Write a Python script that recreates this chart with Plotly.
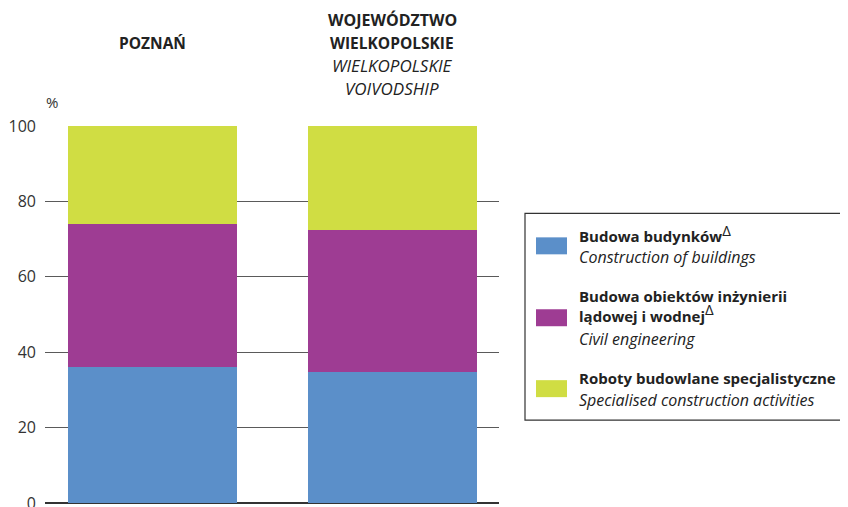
import plotly.graph_objects as go

categories = ["POZNAŃ", "WOJEWÓDZTWO WIELKOPOLSKIE"]
buildings = [36.0, 34.7]
civil = [38.1, 37.8]
specialised = [25.9, 27.5]
series_pl = ["Budowa budynków", "Budowa obiektów inżynierii<br>lądowej i wodnej", "Roboty budowlane specjalistyczne"]
series_en = ["Construction of buildings", "Civil engineering", "Specialised construction activities"]
colors = ["#5b8fc9", "#9e3c93", "#d0dd43"]
yticks = [0, 20, 40, 60, 80, 100]

FONT = "Open Sans"
OFF = 8  # page body margin
W, H = 848 - OFF, 507 - OFF
# plot area in screenshot pixel coords
L, R, T, B = 45, 499, 125.5, 503

def px(x):
    return (x - L) / (R - L)

def py(y):
    return (B - y) / (B - T)

fig = go.Figure()
xs = [0, 1]
for vals, col, name in zip([buildings, civil, specialised], colors, series_en):
    fig.add_trace(go.Bar(x=xs, y=vals, marker=dict(color=col, line=dict(width=0)),
                         width=0.704, name=name, showlegend=False, hoverinfo="y"))

fig.update_layout(
    barmode="stack",
    width=W, height=H,
    margin=dict(l=L - OFF, r=W - (R - OFF), t=T - OFF, b=H - (B - OFF), autoexpand=False),
    paper_bgcolor="white", plot_bgcolor="white",
    font=dict(family=FONT, color="#222"),
    xaxis=dict(range=[-0.448, 1.444], showticklabels=False, showgrid=False, zeroline=False,
               showline=False, ticks="", automargin=False),
    yaxis=dict(range=[0, 100], tickvals=yticks, showgrid=True, gridcolor="#5a5a5a", gridwidth=1.2,
               zeroline=True, zerolinecolor="#333", zerolinewidth=1.5, automargin=False,
               showline=False, ticks="", tickfont=dict(family=FONT, size=16, color="#333"),
               ticklabelstandoff=8, ticklabeloverflow="allow"),
)

annotations = []
annotations.append(dict(x=0, y=py(42), xref="x", yref="paper", text="<b>POZNAŃ</b>",
                        showarrow=False, font=dict(size=15.5, family=FONT, color="#222"),
                        xanchor="center", yanchor="middle"))
for txt, yy, sz in [("<b>WOJEWÓDZTWO</b>", 19, 16), ("<b>WIELKOPOLSKIE</b>", 42, 15.5),
                    ("<i>WIELKOPOLSKIE</i>", 65, 17), ("<i>VOIVODSHIP</i>", 88, 17)]:
    annotations.append(dict(x=1, y=py(yy), xref="x", yref="paper", text=txt, showarrow=False,
                            font=dict(size=sz, family=FONT, color="#222"),
                            xanchor="center", yanchor="middle"))
annotations.append(dict(x=px(52), y=py(101), xref="paper", yref="paper", text="%", showarrow=False,
                        font=dict(size=15, family=FONT, color="#333"), xanchor="center", yanchor="middle"))

shapes = [dict(type="rect", xref="paper", yref="paper", x0=px(525), x1=px(870), y0=py(420), y1=py(213),
               line=dict(color="#333", width=1.2), fillcolor="rgba(0,0,0,0)")]

DELTA = "<sup><span style='font-size:15px'>Δ</span></sup>"
swatch_y = [(237, 254), (309, 326), (380, 397)]
text_rows = [
    [("<b>" + series_pl[0] + "</b>" + DELTA, 233, 15), ("<i>" + series_en[0] + "</i>", 257, 16)],
    [("<b>Budowa obiektów inżynierii</b><br><b>lądowej i wodnej</b>" + DELTA, 306, 15),
     ("<i>" + series_en[1] + "</i>", 339, 16)],
    [("<b>" + series_pl[2] + "</b>", 378, 15), ("<i>" + series_en[2] + "</i>", 400, 16)],
]
for (y0, y1), col, rows in zip(swatch_y, colors, text_rows):
    shapes.append(dict(type="rect", xref="paper", yref="paper", x0=px(536), x1=px(567),
                       y0=py(y1), y1=py(y0), fillcolor=col, line=dict(width=0)))
    for txt, yy, sz in rows:
        annotations.append(dict(x=px(577), y=py(yy), xref="paper", yref="paper", text=txt, showarrow=False,
                                font=dict(size=sz, family=FONT, color="#222"),
                                xanchor="left", yanchor="middle", align="left"))

fig.update_layout(annotations=annotations, shapes=shapes)
fig.write_html("out.html")
